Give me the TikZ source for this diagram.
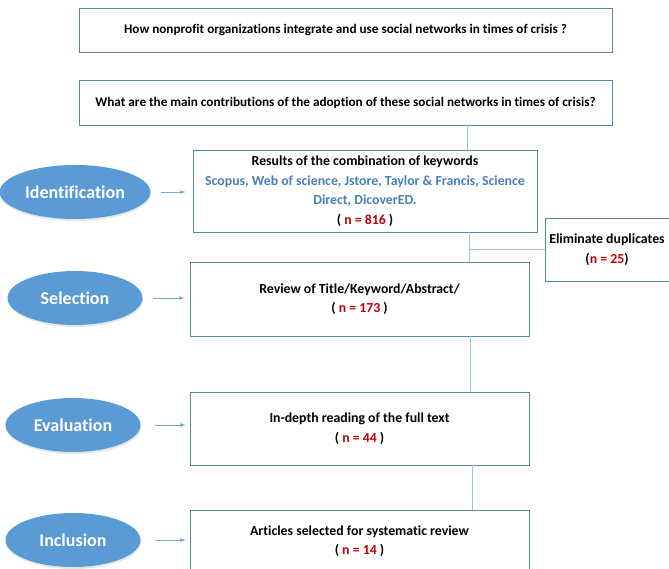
\documentclass[tikz,border=0pt]{standalone}
\usepackage{fontspec}
\setmainfont{Carlito}[Ligatures=CommonOff]
\usetikzlibrary{shapes.geometric,shadows}
\definecolor{boxblue}{HTML}{5A82B4}
\definecolor{linkblue}{HTML}{9DC3E6}
\definecolor{ellblue}{HTML}{5B9BD5}
\definecolor{txtblue}{HTML}{4A7EBB}
\definecolor{nred}{HTML}{C00000}
\newcommand{\nval}[1]{\textcolor{nred}{n = #1}}
\begin{document}
\begin{tikzpicture}[>=latex,x=1pt,y=1pt,
        box/.style={draw=boxblue,line width=0.8pt,align=center,inner sep=2pt,
            font=\bfseries\fontsize{13.8}{19.5}\selectfont},
        question/.style={box,minimum width=533pt,font=\bfseries\fontsize{13.2}{16}\selectfont},
        stage/.style={ellipse,fill=ellblue,text=white,minimum width=135pt,minimum height=54pt,
            font=\bfseries\fontsize{18}{20}\selectfont,
            drop shadow={opacity=0.2,shadow xshift=0.5pt,shadow yshift=-2pt}},
        link/.style={draw=linkblue,line width=1pt},
        feed/.style={->,draw=ellblue!85,line width=0.8pt}]
        \useasboundingbox(0,0)rectangle(669,-569);
        \node[question,minimum height=44pt](q1)at(345.5,-30){How nonprofit organizations integrate and use social networks in times of crisis ?};
        \node[question,minimum height=45pt](q2)at(345.5,-102.5){What are the main contributions of the adoption of these social networks in times of crisis?};
        \node[box,minimum width=344pt,minimum height=82pt](ident)at(365,-191){Results of the combination of keywords\\
            \textcolor{txtblue}{Scopus, Web of science, Jstore, Taylor \& Francis, Science}\\
            \textcolor{txtblue}{Direct, DicoverED.}\\( \nval{816} )};
        \node[box,minimum width=124pt,minimum height=63pt](dup)at(607,-249.5){Eliminate duplicates\\(\nval{25})};
        \node[box,minimum width=339pt,minimum height=74pt](sel)at(359.5,-299){Review of Title/Keyword/Abstract/\\( \nval{173} )};
        \node[box,minimum width=339pt,minimum height=73pt](eva)at(359.5,-428.5){In-depth reading of the full text\\( \nval{44} )};
        \node[box,minimum width=339pt,minimum height=62pt,anchor=north](incl)at(359.5,-510){Articles selected for systematic review\\( \nval{14} )};
        % stages
        \node[stage](s1)at(75,-192){Identification};
        \node[stage](s2)at(75,-298){Selection};
        \node[stage](s3)at(73,-425){Evaluation};
        \node[stage](s4)at(73,-540){Inclusion};
        \draw[feed]([xshift=10pt]s1.east)--([xshift=-7pt]s1.east-|ident.west);
        \draw[feed]([xshift=10pt]s2.east)--([xshift=-5pt]s2.east-|sel.west);
        \draw[feed]([xshift=14pt]s3.east)--([xshift=-4pt]s3.east-|eva.west);
        \draw[feed]([xshift=14pt]s4.east)--([xshift=-4pt]s4.east-|incl.west);
        % connectors
        \draw[link]([xshift=102pt]ident.north)--([xshift=102pt]ident.north|-q2.south);
        \coordinate(j)at([xshift=104pt]ident.south);
        \draw[link](j)--(j|-sel.north);
        \draw[link](j|-dup.west)--(dup.west);
        \draw[link]([xshift=110.5pt]sel.south)--([xshift=110.5pt]sel.south|-eva.north);
        \draw[link]([xshift=112.5pt]eva.south)--([xshift=112.5pt]eva.south|-incl.north);
    \end{tikzpicture}
\end{document}
